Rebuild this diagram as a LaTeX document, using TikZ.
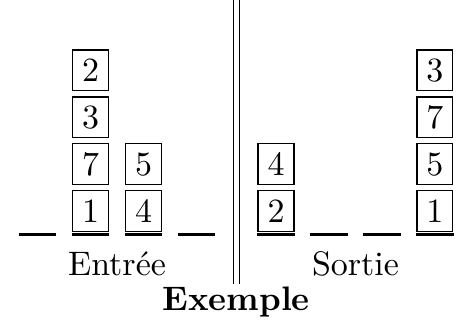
\documentclass[tikz,border=0pt]{standalone}
\usepackage{tikz}
\usetikzlibrary{positioning}
\tikzset{
  disk/.style={draw, minimum width=10.5pt, minimum height=12pt, inner sep=0pt},
  slot/.style={line width=1pt},
  sep/.style={double, double distance=1.4pt, line width=0.4pt},
  lbl/.style={inner sep=1pt}
}

\begin{document}
\begin{tikzpicture}[x=15.6pt, y=13.8pt, node distance=1.4pt]
  \useasboundingbox (-0.708,-1.81) rectangle (8.01,5.0);

  % slots, four on each side
  \coordinate (in1) at (0,0);   \coordinate (in2) at (1,0);
  \coordinate (in3) at (2,0);   \coordinate (in4) at (3,0);
  \coordinate (out1) at (4.5,0); \coordinate (out2) at (5.5,0);
  \coordinate (out3) at (6.5,0); \coordinate (out4) at (7.5,0);
  \foreach \s in {in1,in2,in3,in4,out1,out2,out3,out4}
    \draw[slot] ([xshift=-5.5pt]\s) -- ([xshift=5.5pt]\s);

  % input stacks
  \node[disk, above=0.7pt of in2] (a1) {1};
  \node[disk, above=of a1] (a2) {7};
  \node[disk, above=of a2] (a3) {3};
  \node[disk, above=of a3] (a4) {2};
  \node[disk, above=0.7pt of in3] (b1) {4};
  \node[disk, above=of b1] (b2) {5};

  % output stacks
  \node[disk, above=0.7pt of out1] (c1) {2};
  \node[disk, above=of c1] (c2) {4};
  \node[disk, above=0.7pt of out4] (d1) {1};
  \node[disk, above=of d1] (d2) {5};
  \node[disk, above=of d2] (d3) {7};
  \node[disk, above=of d3] (d4) {3};

  % separator
  \draw[sep] (3.75,5) -- (3.75,-1.06);

  \node[lbl] (entree) at (1.5,-0.62) {Entrée};
  \node[lbl] (sortie) at (6,-0.62) {Sortie};
  \node[lbl, font=\bfseries] (titre) at (3.75,-1.45) {Exemple};
\end{tikzpicture}
\end{document}
